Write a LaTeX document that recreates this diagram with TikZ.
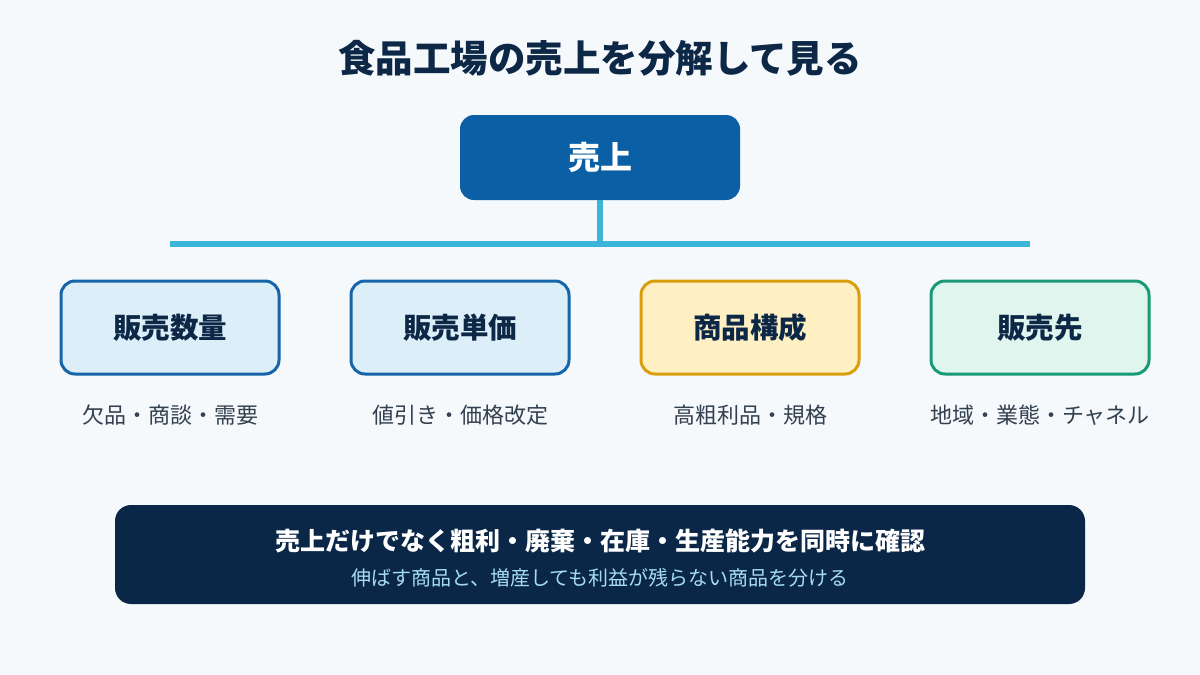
\documentclass[tikz,border=0pt]{standalone}
\usepackage{fontspec}
\setmainfont{Noto Sans CJK JP}
\definecolor{bg}{HTML}{F5F9FC}
\definecolor{navy}{HTML}{0D2747}
\definecolor{topblue}{HTML}{0B5FA5}
\definecolor{bus}{HTML}{3BB5D8}
\definecolor{bluebd}{HTML}{1565A8}
\definecolor{bluefill}{HTML}{DCEEF8}
\definecolor{yelbd}{HTML}{D99E0B}
\definecolor{yelfill}{HTML}{FEF0C3}
\definecolor{grnbd}{HTML}{1A9A74}
\definecolor{grnfill}{HTML}{DFF5EE}
\definecolor{subtxt}{HTML}{33404F}
\definecolor{banner}{HTML}{0B2748}
\definecolor{lightcyan}{HTML}{A5DCF2}
\tikzset{
  topbox/.style={fill=topblue, rounded corners=14pt, minimum width=280pt, minimum height=85pt, text=white, font=\fontsize{32}{36}\selectfont\bfseries},
  catbox/.style={line width=3pt, rounded corners=14pt, minimum width=218pt, minimum height=93pt, text=navy, font=\fontsize{28.5}{32}\selectfont\bfseries},
  subnote/.style={text=subtxt, font=\fontsize{22}{26}\selectfont},
  busline/.style={draw=bus, line width=6pt},
}
\begin{document}
\begin{tikzpicture}[x=1pt,y=-1pt]
\fill[bg] (0,0) rectangle (1200,675);
\useasboundingbox (0,0) rectangle (1200,675);
\node[text=navy, font=\fontsize{37.5}{42}\selectfont\bfseries] (title) at (600,58) {食品工場の売上を分解して見る};
\node[topbox] (top) at (600,157.5) {売上};
\coordinate (busmid) at (600,244);
\coordinate (busL) at (170,244);
\coordinate (busR) at (1030,244);
\draw[busline] (top.south) -- (busmid);
\draw[busline] (busL) -- (busR);
\node[catbox, draw=bluebd, fill=bluefill] (qty) at (170,327.5) {販売数量};
\node[catbox, draw=bluebd, fill=bluefill] (price) at (460,327.5) {販売単価};
\node[catbox, draw=yelbd, fill=yelfill] (mix) at (750,327.5) {商品構成};
\node[catbox, draw=grnbd, fill=grnfill] (cust) at (1040,327.5) {販売先};
\node[subnote] (n1) at (170,415) {欠品・商談・需要};
\node[subnote] (n2) at (460,415) {値引き・価格改定};
\node[subnote] (n3) at (750,415) {高粗利品・規格};
\node[subnote] (n4) at (1040,415) {地域・業態・チャネル};
\node[fill=banner, rounded corners=16pt, minimum width=970pt, minimum height=99pt] (banner) at (600,554.5) {};
\node[text=white, font=\fontsize{25}{29}\selectfont\bfseries] (b1) at (600,541) {売上だけでなく粗利・廃棄・在庫・生産能力を同時に確認};
\node[text=lightcyan, font=\fontsize{20}{24}\selectfont] (b2) at (600,578) {伸ばす商品と、増産しても利益が残らない商品を分ける};
\end{tikzpicture}
\end{document}
